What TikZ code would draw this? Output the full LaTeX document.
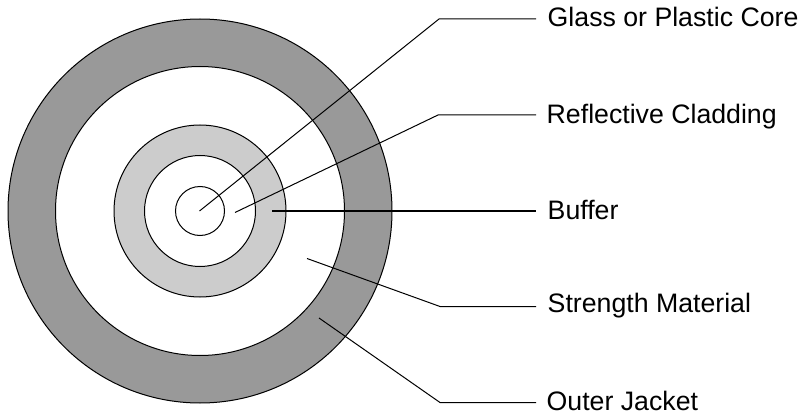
\documentclass[tikz,border=0pt]{standalone}
\usepackage{fontspec}
\setmainfont{Liberation Sans}
\definecolor{jacket}{HTML}{999999}
\definecolor{bufferc}{HTML}{CCCCCC}
\begin{document}
\begin{tikzpicture}[x=1pt,y=1pt,
  ring/.style={draw=black,line width=1pt},
  leader/.style={draw=black,line width=1pt},
  lbl/.style={anchor=base west,inner sep=0pt,font=\fontsize{26.7}{30}\selectfont}]
\useasboundingbox (0,0) rectangle (801,416);
% rings
\node[ring,circle,fill=jacket,minimum size=384pt,inner sep=0pt] (jacket) at (200,205) {};
\node[ring,circle,fill=white,minimum size=289pt,inner sep=0pt] (strength) at (200,205) {};
\node[ring,circle,fill=bufferc,minimum size=172pt,inner sep=0pt] (buffer) at (200,205) {};
\node[ring,circle,fill=white,minimum size=111pt,inner sep=0pt] (cladding) at (200,205) {};
\node[ring,circle,fill=white,minimum size=49pt,inner sep=0pt] (core) at (200,205) {};
% labels
\node[lbl] (l1) at (547.5,389.3) {Glass or Plastic Core};
\node[lbl] (l2) at (546.5,292.7) {Reflective Cladding};
\node[lbl] (l3) at (547.5,197) {Buffer};
\node[lbl] (l4) at (547.5,103.7) {Strength Material};
\node[lbl] (l5) at (546.5,6) {Outer Jacket};
% leader points
\coordinate (s1) at (199.5,205);
\coordinate (b1) at (439,397);
\coordinate (e1) at (536,397);
\coordinate (s2) at (235,203.5);
\coordinate (b2) at (438,301);
\coordinate (e2) at (536,301);
\coordinate (s3) at (272,205);
\coordinate (e3) at (536,205);
\coordinate (s4) at (307,157.5);
\coordinate (b4) at (440,109.5);
\coordinate (e4) at (536,109.5);
\coordinate (s5) at (319,98);
\coordinate (b5) at (440,13.5);
\coordinate (e5) at (536,13.5);
\draw[leader] (s1) -- (b1) -- (e1);
\draw[leader] (s2) -- (b2) -- (e2);
\draw[leader,line width=1.15pt] (s3) -- (e3);
\draw[leader] (s4) -- (b4) -- (e4);
\draw[leader] (s5) -- (b5) -- (e5);
\end{tikzpicture}
\end{document}
